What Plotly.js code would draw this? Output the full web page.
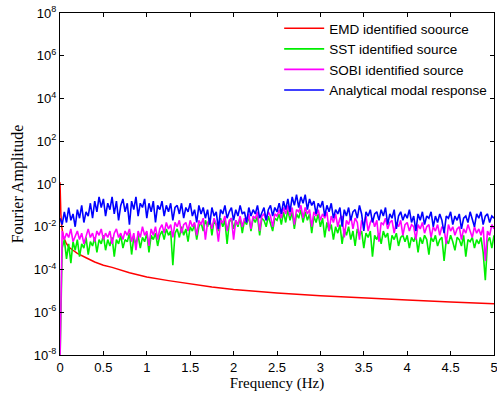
<!DOCTYPE html>
<html>
<head>
<meta charset="utf-8">
<script src="https://cdn.plot.ly/plotly-3.0.1.min.js"></script>
<style>html,body{margin:0;padding:0;background:#fff}#chart{width:497px;height:397px}</style>
</head>
<body>
<div id="chart"></div>
<script>
// Frequency grid step (Hz) for the noisy spectra
const freqStep = 0.025;
const nPoints = 201;

// EMD identified source (red): frequencies and log10 amplitudes
const redFreq = [0, 0.005, 0.01, 0.02, 0.04, 0.07, 0.1, 0.15, 0.2, 0.3, 0.4, 0.5, 0.6, 0.8, 1.0, 1.25, 1.5, 1.75, 2.0, 2.5, 3.0, 3.5, 4.0, 4.5, 5.0];
const redLog = [0.08, -0.9, -1.4, -2.0, -2.5, -2.75, -2.95, -3.1, -3.25, -3.45, -3.65, -3.8, -3.9, -4.15, -4.35, -4.52, -4.68, -4.82, -4.93, -5.1, -5.23, -5.34, -5.43, -5.52, -5.6];

// SST identified source (green), log10 amplitudes
const greenLog = [-8.3,-3.0,-2.6,-3.5,-2.8,-3.7,-2.7,-3.1,-2.6,-3.4,-2.8,-3.0,-2.5,-3.3,-2.7,-2.9,-2.5,-3.2,-2.6,-2.8,
-2.4,-3.1,-2.6,-2.9,-2.5,-3.4,-2.6,-2.8,-2.4,-3.0,-2.6,-2.7,-2.3,-3.3,-2.5,-2.8,-2.4,-3.0,-2.5,-2.7,
-2.3,-3.2,-2.4,-2.6,-2.3,-2.9,-2.4,-2.2,-2.6,-2.1,-2.4,-2.2,-3.8,-2.3,-2.1,-2.5,-2.0,-2.4,-2.1,-2.7,
-2.0,-2.2,-1.9,-2.6,-2.0,-1.8,-2.2,-1.7,-2.0,-1.6,-2.4,-1.7,-1.9,-2.2,-1.6,-2.0,-1.7,-2.8,-1.8,-1.6,
-2.1,-1.7,-2.0,-1.6,-2.3,-1.7,-1.9,-1.5,-2.2,-1.6,-1.8,-1.5,-2.4,-1.6,-1.7,-2.0,-1.5,-1.8,-2.2,-1.6,
-1.7,-1.4,-1.9,-1.3,-1.8,-1.2,-1.7,-1.3,-2.1,-1.4,-1.6,-1.2,-1.8,-1.3,-1.7,-1.4,-2.3,-1.5,-1.8,-1.4,
-2.0,-1.6,-2.5,-1.8,-2.2,-1.9,-2.6,-2.0,-2.3,-1.9,-2.8,-2.1,-2.4,-2.0,-2.6,-2.2,-2.9,-2.1,-2.4,-2.2,
-3.0,-2.3,-2.5,-2.2,-3.4,-2.4,-2.6,-2.3,-2.8,-2.2,-2.5,-2.3,-3.1,-2.4,-2.6,-2.3,-2.9,-2.5,-2.4,-2.7,
-2.4,-3.0,-2.5,-2.7,-2.4,-3.2,-2.5,-2.8,-2.4,-2.6,-3.3,-2.5,-2.7,-2.4,-2.9,-2.6,-2.5,-3.6,-2.6,-2.8,
-2.4,-2.7,-3.1,-2.5,-2.6,-2.9,-2.4,-3.4,-2.6,-2.7,-2.5,-3.0,-2.6,-2.8,-2.5,-3.2,-4.5,-2.7,-2.5,-3.0,
-2.4];

// SOBI identified source (magenta), log10 amplitudes
const magentaLog = [-8.3,-2.2,-2.6,-2.3,-2.5,-2.1,-2.7,-2.4,-2.2,-2.6,-2.3,-2.8,-2.4,-2.1,-2.5,-2.3,-2.7,-2.2,-2.4,-2.1,
-2.6,-2.3,-2.5,-2.2,-2.8,-2.3,-2.1,-2.5,-2.3,-2.6,-2.2,-2.4,-2.1,-2.7,-2.3,-3.1,-2.2,-2.5,-2.0,-2.4,
-2.2,-2.9,-2.1,-2.4,-2.0,-2.6,-2.1,-1.9,-2.3,-1.8,-2.1,-1.9,-2.5,-1.8,-2.0,-1.7,-2.3,-1.9,-1.8,-2.2,
-1.7,-2.0,-1.8,-2.4,-1.7,-1.9,-1.6,-2.6,-1.8,-1.7,-2.1,-1.6,-1.9,-2.7,-1.7,-1.8,-1.5,-2.2,-1.7,-1.6,
-2.6,-1.7,-1.9,-1.5,-2.0,-1.6,-1.8,-1.4,-2.1,-1.5,-1.6,-1.3,-2.2,-1.5,-1.4,-1.7,-1.3,-1.5,-2.0,-1.4,
-1.5,-1.2,-1.6,-1.1,-1.4,-1.0,-1.5,-1.1,-1.9,-1.2,-1.3,-1.0,-1.6,-1.1,-1.4,-1.2,-2.0,-1.3,-1.5,-1.2,
-1.7,-1.4,-1.6,-1.3,-2.2,-1.5,-1.8,-1.4,-2.0,-1.6,-1.5,-2.5,-1.7,-1.9,-1.5,-2.1,-1.6,-1.8,-2.6,-1.7,
-1.9,-1.5,-2.2,-1.8,-1.6,-2.0,-1.7,-2.7,-1.8,-1.9,-1.6,-2.1,-1.8,-1.7,-2.3,-1.8,-2.0,-1.7,-2.4,-1.9,
-1.8,-2.2,-1.9,-2.0,-2.6,-1.9,-2.1,-1.8,-2.3,-2.0,-1.9,-2.5,-2.0,-2.2,-1.9,-2.4,-2.0,-2.1,-2.8,-1.9,
-2.2,-2.0,-2.4,-2.1,-2.0,-2.6,-2.1,-2.3,-1.9,-2.2,-2.5,-2.0,-2.3,-2.1,-2.4,-2.0,-3.6,-2.2,-2.4,-1.9,
-2.1];

// Analytical modal response (blue), log10 amplitudes
const blueLog = [-1.6,-1.9,-1.3,-1.8,-1.1,-1.7,-1.4,-2.0,-1.2,-1.6,-1.0,-1.8,-1.3,-1.5,-0.9,-1.6,-0.8,-1.3,-0.6,-1.1,
-0.7,-1.5,-0.9,-1.2,-0.6,-1.4,-0.8,-1.7,-1.0,-0.7,-1.3,-0.9,-1.9,-0.8,-1.2,-0.6,-1.5,-0.9,-1.1,-0.7,
-1.6,-0.9,-1.3,-0.8,-1.8,-1.0,-1.2,-0.8,-1.5,-1.0,-1.3,-0.9,-1.7,-1.1,-1.0,-1.4,-0.9,-1.6,-1.1,-1.3,
-0.9,-1.5,-1.2,-1.8,-1.0,-1.4,-1.1,-1.6,-1.2,-1.9,-1.1,-1.5,-1.3,-2.1,-1.2,-1.4,-1.0,-1.6,-1.3,-1.1,
-1.7,-1.2,-1.5,-1.0,-1.4,-1.3,-1.8,-1.1,-1.5,-1.2,-1.4,-1.0,-1.6,-1.3,-1.1,-1.7,-1.2,-1.0,-1.5,-1.1,
-1.3,-0.9,-1.4,-0.8,-1.2,-0.7,-1.3,-0.6,-1.0,-0.5,-1.1,-0.6,-0.9,-0.5,-1.2,-0.7,-1.0,-0.8,-1.4,-0.9,
-1.1,-0.8,-1.5,-1.0,-1.3,-0.9,-1.6,-1.2,-1.4,-1.1,-2.0,-1.2,-1.5,-1.1,-1.7,-1.3,-1.2,-1.6,-1.0,-1.4,
-2.2,-1.3,-1.5,-1.2,-1.8,-1.4,-1.3,-1.7,-1.2,-1.5,-1.1,-1.9,-1.4,-1.6,-1.2,-2.1,-1.5,-1.3,-1.7,-1.4,
-1.6,-1.2,-1.8,-1.5,-2.2,-1.4,-1.7,-1.3,-1.9,-1.5,-1.6,-1.3,-2.0,-1.5,-1.8,-1.4,-1.7,-2.3,-1.5,-1.6,
-1.3,-1.9,-1.5,-1.7,-1.4,-2.1,-1.6,-1.5,-1.8,-1.3,-1.7,-2.0,-1.4,-1.6,-1.3,-1.9,-1.5,-1.4,-1.8,-1.5,
-1.6];

// Tick labels
const yTickExp = [-8, -6, -4, -2, 0, 2, 4, 6, 8];
const yTickText = ['10<sup>-8</sup>','10<sup>-6</sup>','10<sup>-4</sup>','10<sup>-2</sup>','10<sup>0</sup>','10<sup>2</sup>','10<sup>4</sup>','10<sup>6</sup>','10<sup>8</sup>'];
const xTickVals = [0, 0.5, 1, 1.5, 2, 2.5, 3, 3.5, 4, 4.5, 5];
const xTickText = ['0','0.5','1','1.5','2','2.5','3','3.5','4','4.5','5'];

const freq = [];
for (let i = 0; i < nPoints; i++) freq.push(+(i * freqStep).toFixed(4));
const toLin = arr => arr.map(e => Math.pow(10, e));

const traces = [
  {x: redFreq, y: toLin(redLog), name: 'EMD identified soource', line: {color: '#ff0000', width: 1.5}},
  {x: freq, y: toLin(greenLog), name: 'SST identified source', line: {color: '#00ee00', width: 1.6}},
  {x: freq, y: toLin(magentaLog), name: 'SOBI identified source', line: {color: '#ff00ff', width: 1.6}},
  {x: freq, y: toLin(blueLog), name: 'Analytical modal response', line: {color: '#0000ff', width: 1.6}}
].map(t => Object.assign({type: 'scatter', mode: 'lines'}, t));

const layout = {
  width: 497, height: 397,
  margin: {l: 60, r: 3, t: 13, b: 42, pad: 0},
  paper_bgcolor: '#ffffff', plot_bgcolor: '#ffffff',
  font: {family: 'Liberation Sans, Arial, sans-serif', size: 13, color: '#000'},
  showlegend: true,
  legend: {x: 0.505, y: 1.0, xanchor: 'left', yanchor: 'top', bgcolor: 'rgba(0,0,0,0)', borderwidth: 0,
           itemwidth: 40,
           font: {family: 'Liberation Sans, Arial, sans-serif', size: 13.5, color: '#000'}, tracegroupgap: 0},
  xaxis: {
    range: [-0.00001, 5.00001], tickvals: xTickVals, ticktext: xTickText, ticks: 'inside', ticklen: 4, tickcolor: '#000',
    showline: true, linecolor: '#000', linewidth: 1, mirror: 'ticks', showgrid: false, zeroline: false,
    ticklabeloverflow: 'allow',
    tickfont: {size: 13},
    title: {text: 'Frequency (Hz)', font: {family: 'Liberation Serif, Times New Roman, serif', size: 15}, standoff: 3}
  },
  yaxis: {
    type: 'log', range: [-8, 8], tickvals: yTickExp.map(e => Math.pow(10, e)), ticktext: yTickText,
    ticks: 'inside', ticklen: 4, tickcolor: '#000',
    showline: true, linecolor: '#000', linewidth: 1, mirror: 'ticks', showgrid: false, zeroline: false,
    tickfont: {size: 13},
    title: {text: 'Fourier Amplitude', font: {family: 'Liberation Serif, Times New Roman, serif', size: 16}, standoff: 6}
  }
};

Plotly.newPlot('chart', traces, layout, {displayModeBar: false, staticPlot: true});
</script>
</body>
</html>
